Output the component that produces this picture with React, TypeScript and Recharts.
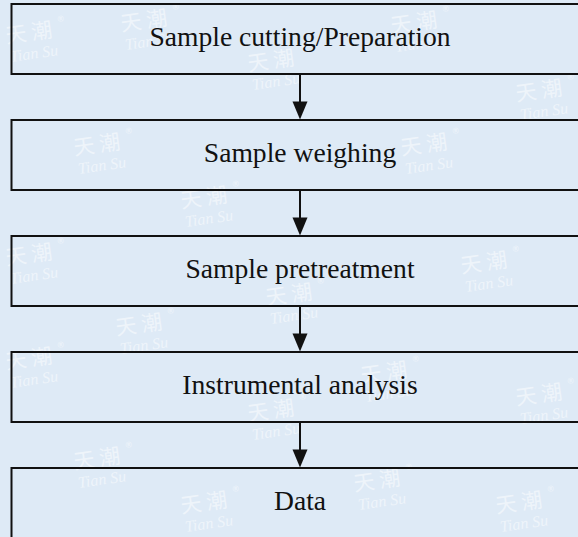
import { BarChart, Bar, XAxis, YAxis } from 'recharts'

// flow steps, top to bottom
const steps = [
  'Sample cutting/Preparation',
  'Sample weighing',
  'Sample pretreatment',
  'Instrumental analysis',
  'Data',
]
// every step gets a box; every step but the last points to the next one
const boxValues   = [1, 1, 1, 1, 1]
const arrowValues = [1, 1, 1, 1, 0]

const data = steps.map((step, i) => ({ step, box: boxValues[i], arrow: arrowValues[i] }))

// faint "Tian Su" watermark stamps over the page
const stamps = [
  [30, 40], [145, 28], [272, 68], [415, 30], [540, 98],
  [98, 152], [205, 205], [425, 152], [30, 262], [485, 270],
  [140, 332], [290, 302], [385, 380], [30, 366], [540, 402],
  [98, 466], [272, 418], [378, 488], [205, 510], [520, 510],
]

const INK   = '#111'
const SERIF = '"Liberation Serif", "Times New Roman", serif'

function StepBox(props: any) {
  const { x, y, width, height, payload } = props
  if (!width || !height) return null
  return (
    <g>
      <rect x={x} y={y} width={width} height={height} fill="none" stroke={INK} strokeWidth={2} />
      <text
        x={x + width / 2}
        y={y + height * 0.6}
        textAnchor="middle"
        fontFamily={SERIF}
        fontSize={27.6}
        fill={INK}
      >
        {payload.step}
      </text>
    </g>
  )
}

function StepArrow(props: any) {
  const { x, y, width, height, payload } = props
  if (!payload?.arrow || !width || width <= 0) return null
  const cx   = x + width / 2
  const head = 18
  const tipY = y + height
  return (
    <g>
      <line x1={cx} y1={y} x2={cx} y2={tipY - head + 1} stroke={INK} strokeWidth={2} />
      <polygon points={`${cx - 7.5},${tipY - head} ${cx + 7.5},${tipY - head} ${cx},${tipY}`} fill={INK} />
    </g>
  )
}

function Watermark() {
  return (
    <svg width={578} height={537} style={{ position: 'absolute', left: 0, top: 0 }}>
      {stamps.map(([sx, sy], i) => (
        <g key={i} transform={`translate(${sx},${sy}) rotate(-8)`} fill="#fff" opacity={0.5}>
          <text x={0} y={0} textAnchor="middle" fontFamily='"Noto Sans CJK SC"' fontSize={21}>
            天 潮
          </text>
          <text x={30} y={-14} fontFamily='"Noto Sans"' fontSize={8}>®</text>
          <text x={2} y={19} textAnchor="middle" fontFamily={SERIF} fontStyle="italic" fontSize={16}>
            Tian Su
          </text>
        </g>
      ))}
    </svg>
  )
}

export default function App() {
  return (
    <div
      style={{
        position: 'fixed',
        left: 0,
        top: 0,
        width: 578,
        height: 537,
        overflow: 'hidden',
        background: '#deeaf6',
      }}
    >
      <Watermark />
      <div style={{ position: 'absolute', left: 0, top: 0 }}>
        <BarChart
          width={600}
          height={584}
          data={data}
          layout="vertical"
          margin={{ top: 4, right: 11.5, bottom: 0, left: 11.5 }}
          barGap={0}
          barCategoryGap={0}
        >
          <XAxis type="number" domain={[0, 1]} hide />
          <YAxis type="category" dataKey="step" hide />
          <Bar dataKey="box" barSize={70} shape={<StepBox />} isAnimationActive={false} />
          <Bar dataKey="arrow" barSize={45.5} shape={<StepArrow />} isAnimationActive={false} />
        </BarChart>
      </div>
    </div>
  )
}
